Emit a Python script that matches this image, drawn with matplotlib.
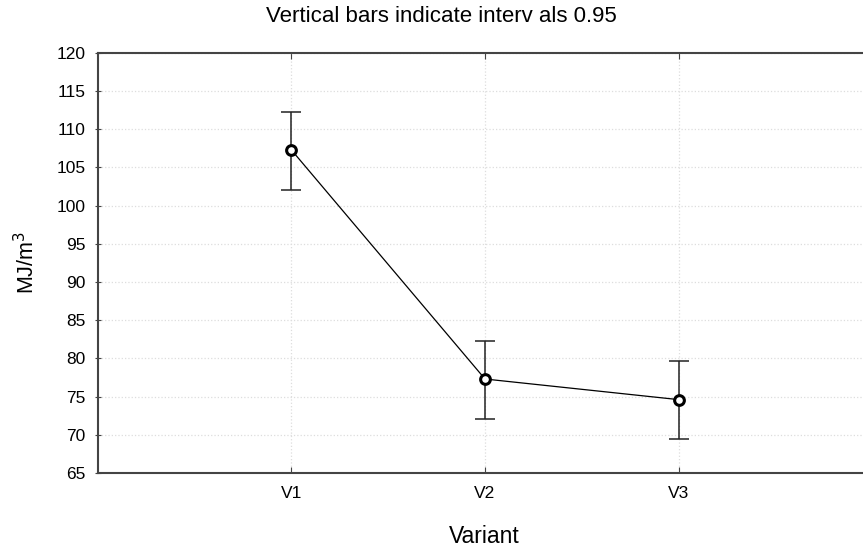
import matplotlib
matplotlib.use('Agg')
import matplotlib.pyplot as plt

plt.rcParams['font.family'] = ['Liberation Sans', 'DejaVu Sans']

# data
variants = ['V1', 'V2', 'V3']
means = [107.3, 77.3, 74.6]
ci_low = [102.0, 72.1, 69.4]
ci_high = [112.3, 82.3, 79.6]
yticks = [65, 70, 75, 80, 85, 90, 95, 100, 105, 110, 115, 120]

xpos = [1, 2, 3]
err_low = [m - lo for m, lo in zip(means, ci_low)]
err_high = [hi - m for m, hi in zip(means, ci_high)]

W, H = 863, 548
fig = plt.figure(figsize=(W / 100, H / 100), dpi=100)
# right edge sits just past the canvas, like the original
ax = fig.add_axes([97.5 / W, 1 - 473 / H, 775 / W, (473 - 52.7) / H])

ax.errorbar(xpos, means, yerr=[err_low, err_high], fmt='none', ecolor='#222222',
            elinewidth=1.1, capsize=7, capthick=1.1, zorder=2)
ax.plot(xpos, means, color='black', lw=0.9, zorder=3)
ax.plot(xpos, means, 'o', ms=7, mfc='white', mec='black', mew=2.2, zorder=4)

ax.set_xlim(0, 4)
ax.set_ylim(65, 120)
ax.set_xticks(xpos)
ax.set_xticklabels(variants)
ax.set_yticks(yticks)

ax.grid(True, color='#dddddd', linestyle=':', linewidth=0.9)
ax.set_axisbelow(True)

for s in ['left', 'top', 'bottom', 'right']:
    ax.spines[s].set_color('#444444')
    ax.spines[s].set_linewidth(1.5)

ax.tick_params(axis='x', direction='in', length=4, top=True, labelsize=12.5, pad=9.5, color='#444444')
ax.tick_params(axis='y', direction='inout', length=4, labelsize=12.5, pad=6.5, color='#444444')

fig.text(441 / W, 1 - 17 / H, 'Vertical bars indicate interv als 0.95', fontsize=16,
         ha='center', va='center')
ax.set_xlabel('Variant', fontsize=16.5, va='center')
ax.xaxis.set_label_coords(0.4987, -0.15)
ax.set_ylabel('MJ/m$^3$', fontsize=15.5, va='center')
ax.yaxis.set_label_coords(-0.091, 0.5)

fig.savefig('out.png', dpi=100)
